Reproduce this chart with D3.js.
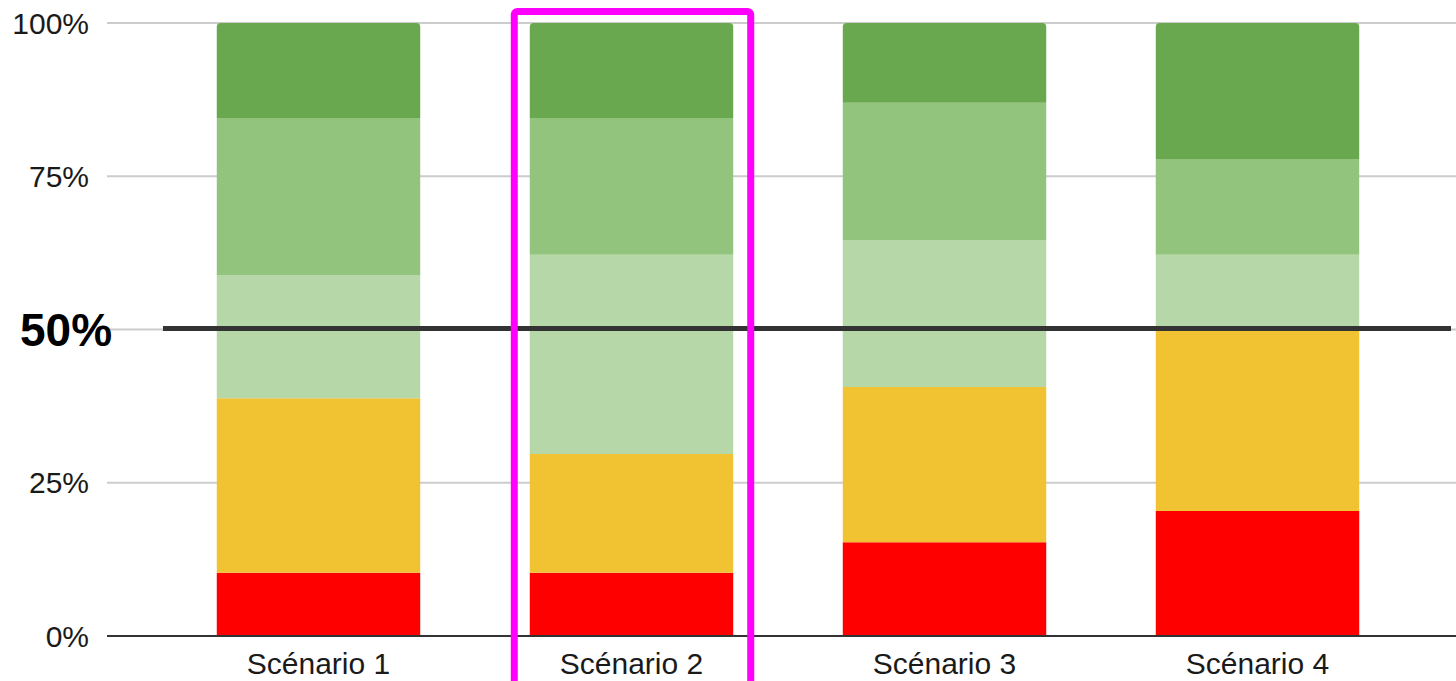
<!DOCTYPE html>
<html>
<head>
<meta charset="utf-8">
<script src="https://cdn.jsdelivr.net/npm/d3@7"></script>
<style>
  body { margin: 0; background: #fff; }
  text { font-family: Arial, "Liberation Sans", sans-serif; }
</style>
</head>
<body>
<svg id="chart"></svg>
<script>
// data (share of each level, in %)
var scenarios = ["Scénario 1", "Scénario 2", "Scénario 3", "Scénario 4"]
var levels = ["rouge", "jaune", "vertClair", "vertMoyen", "vertFonce"]
var rouge = [10.3, 10.3, 15.3, 20.4]
var jaune = [28.5, 19.4, 25.3, 29.5]
var vertClair = [20.1, 32.5, 24.0, 12.3]
var vertMoyen = [25.6, 22.3, 22.4, 15.6]
var vertFonce = [15.5, 15.5, 13.0, 22.2]
var yTicks = [0, 0.25, 0.5, 0.75, 1]
var refLine = 0.5
var highlighted = "Scénario 2"

var colors = {
    rouge: "#ff0000",
    jaune: "#f1c232",
    vertClair: "#b6d7a8",
    vertMoyen: "#93c47d",
    vertFonce: "#6aa84f"
}

var width = 1456, height = 681
var svg = d3.select("#chart")
    .attr("width", width)
    .attr("height", height)

var rows = scenarios.map(function (s, i) {
    return {
        scenario: s,
        rouge: rouge[i] / 100,
        jaune: jaune[i] / 100,
        vertClair: vertClair[i] / 100,
        vertMoyen: vertMoyen[i] / 100,
        vertFonce: vertFonce[i] / 100
    }
})
// normalise each column to 100%
rows.forEach(function (r) {
    var tot = d3.sum(levels, k => r[k])
    levels.forEach(k => r[k] = r[k] / tot)
})

var x = d3.scaleBand()
    .domain(scenarios)
    .range([162, 1414])
    .paddingInner(0.35)
    .paddingOuter(0.175)

var y = d3.scaleLinear()
    .domain([0, 1])
    .range([636, 23])

// grid
svg.append("g")
    .selectAll("line")
    .data(yTicks.filter(t => t > 0))
    .enter()
    .append("line")
        .attr("x1", 107)
        .attr("x2", width)
        .attr("y1", d => y(d))
        .attr("y2", d => y(d))
        .attr("stroke", "#cccccc")
        .attr("stroke-width", 2)

// tick labels
svg.append("g")
    .selectAll("text")
    .data(yTicks.filter(t => t != refLine))
    .enter()
    .append("text")
        .attr("x", 89)
        .attr("y", d => y(d) + 10.5)
        .attr("text-anchor", "end")
        .attr("font-size", "30px")
        .attr("fill", "#1a1a1a")
        .text(d => d3.format(".0%")(d))

var series = d3.stack().keys(levels)(rows)

var g = svg.append("g")
series.forEach(function (s) {
    var top = s.key == levels[levels.length - 1]
    g.selectAll("path." + s.key)
        .data(s)
        .enter()
        .append("path")
            .attr("class", s.key)
            .attr("fill", colors[s.key])
            .attr("d", function (d) {
                var x0 = x(d.data.scenario), x1 = x0 + x.bandwidth()
                var y0 = y(d[0]), y1 = y(d[1])
                var r = top ? 4 : 0
                return "M" + x0 + "," + y0 +
                    "V" + (y1 + r) +
                    (r ? "Q" + x0 + "," + y1 + " " + (x0 + r) + "," + y1 : "") +
                    "H" + (x1 - r) +
                    (r ? "Q" + x1 + "," + y1 + " " + x1 + "," + (y1 + r) : "") +
                    "V" + y0 + "Z"
            })
})

// baseline
svg.append("line")
    .attr("x1", 107)
    .attr("x2", width)
    .attr("y1", y(0))
    .attr("y2", y(0))
    .attr("stroke", "#333")
    .attr("stroke-width", 2)

// x labels
svg.append("g")
    .selectAll("text")
    .data(scenarios)
    .enter()
    .append("text")
        .attr("x", d => x(d) + x.bandwidth() / 2)
        .attr("y", 674)
        .attr("text-anchor", "middle")
        .attr("font-size", "30px")
        .attr("fill", "#1a1a1a")
        .text(d => d)

// 50% reference line
svg.append("line")
    .attr("x1", 163)
    .attr("x2", 1451)
    .attr("y1", y(refLine) - 1)
    .attr("y2", y(refLine) - 1)
    .attr("stroke", "#333")
    .attr("stroke-width", 5)

svg.append("text")
    .attr("x", 20)
    .attr("y", y(refLine) + 16)
    .attr("font-size", "46px")
    .attr("font-weight", "bold")
    .attr("fill", "#000")
    .text(d3.format(".0%")(refLine))

// highlight box
var hx = x(highlighted)
svg.append("rect")
    .attr("x", hx - 15.5)
    .attr("y", 11.5)
    .attr("width", x.bandwidth() + 33)
    .attr("height", 700)
    .attr("rx", 3)
    .attr("fill", "none")
    .attr("stroke", "#ff00ff")
    .attr("stroke-width", 7)
</script>
</body>
</html>
